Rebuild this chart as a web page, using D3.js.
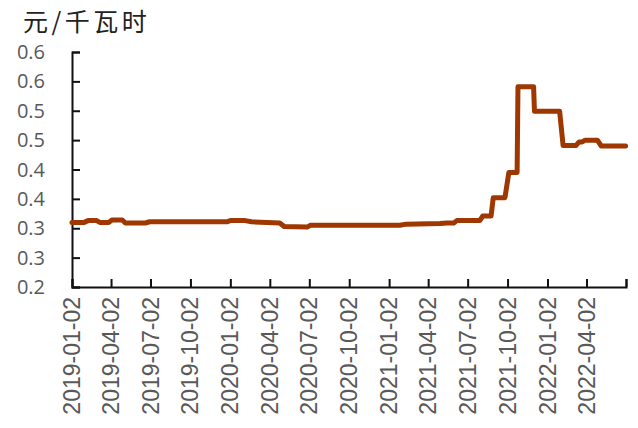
<!DOCTYPE html>
<html>
<head>
<meta charset="utf-8">
<script src="https://cdn.jsdelivr.net/npm/d3@7"></script>
<style>
  body { margin: 0; background: #fff; }
</style>
</head>
<body>
<div id="chart"></div>
<script>
// data
var dates = ["2019-01-02","2019-01-30","2019-02-08","2019-02-28","2019-03-07","2019-03-28",
             "2019-04-04","2019-04-28","2019-05-05","2019-06-20","2019-06-30","2019-12-25",
             "2020-01-02","2020-02-05","2020-02-20","2020-04-25","2020-05-05","2020-06-27",
             "2020-07-04","2021-01-27","2021-02-10","2021-04-29","2021-05-15","2021-05-31",
             "2021-06-07","2021-07-30","2021-08-06","2021-08-25","2021-08-30","2021-09-26",
             "2021-10-05","2021-10-24","2021-10-26","2021-12-01","2021-12-03","2022-01-30",
             "2022-02-07","2022-03-09","2022-03-16","2022-03-23","2022-03-30","2022-04-27",
             "2022-05-06","2022-07-01"];
var prices = [0.310,0.310,0.313,0.313,0.310,0.310,
              0.314,0.314,0.309,0.309,0.311,0.311,
              0.313,0.313,0.311,0.309,0.303,0.302,
              0.305,0.305,0.307,0.308,0.309,0.309,
              0.313,0.313,0.321,0.321,0.352,0.352,
              0.395,0.395,0.541,0.541,0.499,0.499,
              0.441,0.441,0.447,0.447,0.450,0.450,
              0.440,0.440];
var xTickDates = ["2019-01-02","2019-04-02","2019-07-02","2019-10-02","2020-01-02","2020-04-02",
                  "2020-07-02","2020-10-02","2021-01-02","2021-04-02","2021-07-02","2021-10-02",
                  "2022-01-02","2022-04-02","2022-07-02"];
var xTickLabels = ["2019-01-02","2019-04-02","2019-07-02","2019-10-02","2020-01-02","2020-04-02",
                   "2020-07-02","2020-10-02","2021-01-02","2021-04-02","2021-07-02","2021-10-02",
                   "2022-01-02","2022-04-02",""];
var yTicks = [0.2, 0.25, 0.3, 0.35, 0.4, 0.45, 0.5, 0.55, 0.6];
var yTickLabels = ["0.2","0.3","0.3","0.4","0.4","0.5","0.5","0.6","0.6"];
var unitLabel = "元/千瓦时";

var w = 638, h = 428;
var margin = {left: 72, right: 12, top: 52, bottom: 141};

var parse = d3.timeParse("%Y-%m-%d");
var data = dates.map(function(d, i) { return {date: parse(d), value: prices[i]}; });

var svg = d3.select("#chart").append("svg")
    .attr("width", w)
    .attr("height", h);

var x = d3.scaleTime()
    .domain([parse(xTickDates[0]), parse(xTickDates[xTickDates.length - 1])])
    .range([margin.left, w - margin.right]);

var y = d3.scaleLinear()
    .domain([0.2, 0.6])
    .range([h - margin.bottom, margin.top]);

// unit title
svg.append("text")
    .attr("x", 23)
    .attr("y", 31)
    .attr("font-family", "Noto Sans CJK SC")
    .attr("font-size", "25px")
    .attr("letter-spacing", "3.5px")
    .attr("fill", "#222")
    .text(unitLabel);

// y axis
var yAxis = d3.axisRight(y)
    .tickValues(yTicks)
    .tickSize(8)
    .tickFormat(function(d, i) { return ""; });

var gy = svg.append("g")
    .attr("transform", "translate(" + margin.left + ",0)")
    .call(yAxis);
gy.select(".domain").attr("stroke", "#111").attr("stroke-width", 2);
gy.selectAll(".tick line").attr("stroke", "#111").attr("stroke-width", 2);

svg.selectAll("text.ylab")
    .data(yTicks)
    .enter()
    .append("text")
    .attr("class", "ylab")
    .attr("x", 45)
    .attr("y", function(d) { return y(d); })
    .attr("dy", "0.35em")
    .attr("text-anchor", "end")
    .attr("font-family", "Open Sans")
    .attr("font-size", "20px")
    .attr("fill", "#595959")
    .text(function(d, i) { return yTickLabels[i]; });

// x axis
var xAxis = d3.axisTop(x)
    .tickValues(xTickDates.map(parse))
    .tickSize(8)
    .tickFormat("");

var gx = svg.append("g")
    .attr("transform", "translate(0," + (h - margin.bottom) + ")")
    .call(xAxis);
gx.select(".domain").attr("stroke", "#111").attr("stroke-width", 2);
gx.selectAll(".tick line").attr("stroke", "#111").attr("stroke-width", 2);

svg.selectAll("text.xlab")
    .data(xTickDates)
    .enter()
    .append("text")
    .attr("class", "xlab")
    .attr("transform", function(d) {
        return "translate(" + x(parse(d)) + "," + (h - margin.bottom + 10) + ") rotate(-90)";
    })
    .attr("dy", "0.35em")
    .attr("text-anchor", "end")
    .attr("font-family", "Liberation Sans")
    .attr("font-size", "23px")
    .attr("fill", "#595959")
    .text(function(d, i) { return xTickLabels[i]; });

// price line
var line = d3.line()
    .x(function(d) { return x(d.date); })
    .y(function(d) { return y(d.value); });

svg.append("path")
    .datum(data)
    .attr("d", line)
    .attr("fill", "none")
    .attr("stroke", "#9E3700")
    .attr("stroke-width", 5)
    .attr("stroke-linejoin", "round")
    .attr("stroke-linecap", "round");
</script>
</body>
</html>
